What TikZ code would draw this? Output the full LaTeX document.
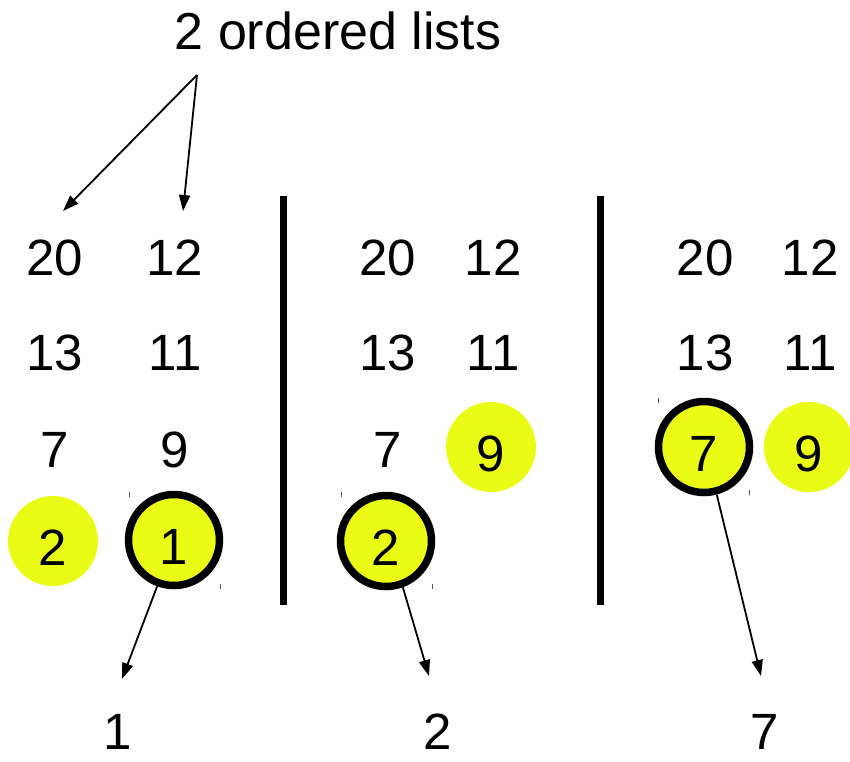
\documentclass[tikz,border=0pt]{standalone}
\usepackage{fontspec}
\setmainfont{Liberation Sans}
\usetikzlibrary{arrows.meta}
\definecolor{hl}{RGB}{234,252,22}
\tikzset{
  x=1pt,y=-1pt,
  num/.style={inner sep=0pt,font=\fontsize{51}{60}\selectfont},
  hlcirc/.style={circle,fill=hl,minimum size=90pt,inner sep=0pt,text height=48pt,text depth=0pt,font=\fontsize{51}{60}\selectfont},
  ringcirc/.style={circle,fill=hl,draw=black,line width=7.5pt,minimum size=91pt,inner sep=0pt,text height=48pt,text depth=0pt,font=\fontsize{51}{60}\selectfont},
  arr/.style={line width=1.8pt,-{Triangle[length=16pt,width=11pt]}},
  bar/.style={line width=7pt},
  tick/.style={line width=0.8pt,gray!70!black}
}
\begin{document}
\begin{tikzpicture}
\useasboundingbox (0,0) rectangle (850,761);
% title
\node[num,font=\fontsize{52}{60}\selectfont] (title) at (338,31) {2 ordered lists};
\coordinate (tstart) at (197,75);
\coordinate (tA) at (63,211);
\coordinate (tB) at (183,211);
\draw[arr] (tstart) -- (tA);
\draw[arr] (tstart) -- (tB);
% bars
\coordinate (b1t) at (283,196); \coordinate (b1b) at (283,605);
\coordinate (b2t) at (600,196); \coordinate (b2b) at (600,605);
\draw[bar] (b1t) -- (b1b);
\draw[bar] (b2t) -- (b2b);
% panel 1
\node[num] (p1a1) at (55,258) {20};
\node[num] (p1b1) at (175,258) {12};
\node[num] (p1a2) at (55,353) {13};
\node[num] (p1b2) at (175,353) {11};
\node[num] (p1a3) at (55,450) {7};
\node[num] (p1b3) at (175,450) {9};
\node[hlcirc] (p1a4) at (53,541) {2};
\node[ringcirc] (p1b4) at (174,540) {1};
\draw[tick] (129,492) -- (129,497);
\draw[tick] (220,584) -- (220,589);
% panel 2
\node[num] (p2a1) at (388,258) {20};
\node[num] (p2b1) at (493,258) {12};
\node[num] (p2a2) at (388,353) {13};
\node[num] (p2b2) at (493,353) {11};
\node[num] (p2a3) at (388,450) {7};
\node[hlcirc] (p2b3) at (491,447) {9};
\node[ringcirc] (p2a4) at (386,541) {2};
\draw[tick] (341,492) -- (341,497);
\draw[tick] (432,584) -- (432,589);
% panel 3
\node[num] (p3a1) at (705,258) {20};
\node[num] (p3b1) at (810,258) {12};
\node[num] (p3a2) at (705,353) {13};
\node[num] (p3b2) at (810,353) {11};
\node[ringcirc] (p3a3) at (704,447) {7};
\node[hlcirc] (p3b3) at (809,447) {9};
\draw[tick] (658,398) -- (658,403);
\draw[tick] (749,490) -- (749,495);
% results
\node[num] (r1) at (118,732) {1};
\node[num] (r2) at (438,732) {2};
\node[num] (r3) at (765,732) {7};
\coordinate (e1) at (122,679);
\coordinate (e2) at (429,676);
\coordinate (e3) at (761,676);
\draw[arr] (p1b4.250) -- (e1);
\draw[arr] (p2a4.290) -- (e2);
\draw[arr] (p3a3.285) -- (e3);
\end{tikzpicture}
\end{document}
